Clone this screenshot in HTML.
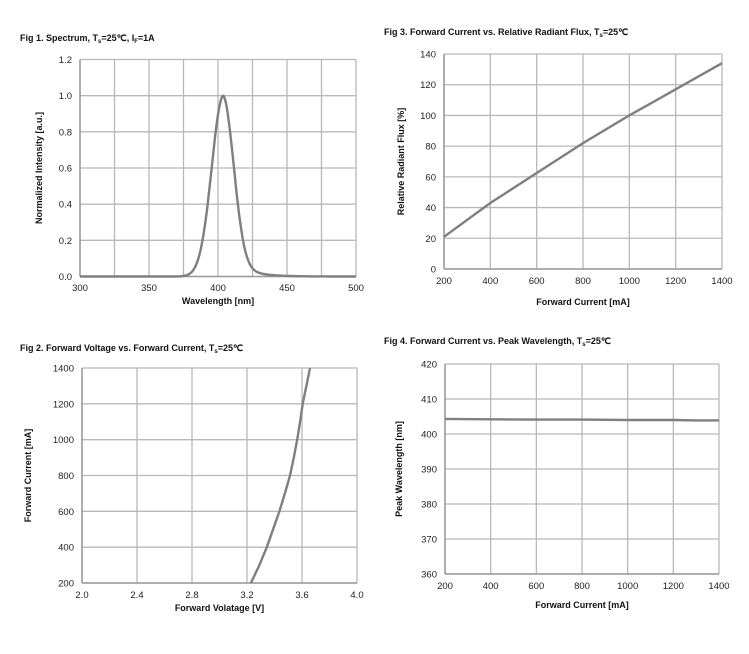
<!DOCTYPE html>
<html><head><meta charset="utf-8"><style>
html,body{margin:0;padding:0;background:#fff;}
svg{display:block;font-family:"Liberation Sans",Arial,sans-serif;}
.t{font-size:9px;font-weight:bold;fill:#111;}
.tk{font-size:9.5px;fill:#222;}
.al{font-size:9px;font-weight:bold;fill:#111;}
</style></head><body>
<svg id="s" width="749" height="654" viewBox="0 0 749 654" xmlns="http://www.w3.org/2000/svg">
<text class="t" x="20" y="41">Fig 1. Spectrum, T<tspan font-size="6" dy="2">s</tspan><tspan dy="-2">=25℃, I</tspan><tspan font-size="6" dy="2">F</tspan><tspan dy="-2">=1A</tspan></text>
<text class="t" x="384" y="35">Fig 3. Forward Current vs. Relative Radiant Flux, T<tspan font-size="6" dy="2">s</tspan><tspan dy="-2">=25℃</tspan></text>
<text class="t" x="20" y="351">Fig 2. Forward Voltage vs. Forward Current, T<tspan font-size="6" dy="2">s</tspan><tspan dy="-2">=25℃</tspan></text>
<text class="t" x="384" y="344">Fig 4. Forward Current vs. Peak Wavelength, T<tspan font-size="6" dy="2">s</tspan><tspan dy="-2">=25℃</tspan></text>
<g id="g"></g>
</svg>
<script>
var g=document.getElementById('g'),NS='http://www.w3.org/2000/svg';
function el(n,a,t){var e=document.createElementNS(NS,n);for(var k in a)e.setAttribute(k,a[k]);if(t!==undefined)e.textContent=t;g.appendChild(e);return e;}
function chart(o){
 var L=o.L,R=o.R,T=o.T,B=o.B;
 function X(v){return L+(v-o.x0)/(o.x1-o.x0)*(R-L);}
 function Y(v){return B-(v-o.y0)/(o.y1-o.y0)*(B-T);}
 for(var i=0;i<=o.nx;i++){var x=L+(R-L)*i/o.nx;el('line',{x1:x,x2:x,y1:T,y2:B,stroke:'#b8b8b8','stroke-width':1.3});}
 for(var j=0;j<=o.ny;j++){var y=T+(B-T)*j/o.ny;el('line',{x1:L,x2:R,y1:y,y2:y,stroke:'#b8b8b8','stroke-width':1.3});}
 el('line',{x1:L,x2:R,y1:B,y2:B,stroke:'#999','stroke-width':1.5});
 el('line',{x1:L,x2:L,y1:T,y2:B,stroke:'#999','stroke-width':1.5});
 o.xl.forEach(function(s,i){var x=L+(R-L)*i/(o.xl.length-1);el('text',{x:x,y:o.xly,'text-anchor':'middle','class':'tk'},s);});
 o.yl.forEach(function(s,i){var y=B-(B-T)*i/(o.yl.length-1);el('text',{x:L-8,y:y+3.5,'text-anchor':'end','class':'tk'},s);});
 el('text',{x:(L+R)/2,y:o.xty,'text-anchor':'middle','class':'al'},o.xt);
 el('text',{x:0,y:0,'text-anchor':'middle','class':'al',transform:'translate('+o.ytx+','+(T+B)/2+') rotate(-90)'},o.yt);
 var d=o.pts.map(function(p,i){return (i?'L':'M')+X(p[0]).toFixed(1)+' '+Y(p[1]).toFixed(1);}).join(' ');
 el('path',{d:d,fill:'none',stroke:'#7f7f7f','stroke-width':2.4,'stroke-linejoin':'round'});
}
var sp=[];for(var w=300;w<=500;w+=0.5){var d=w-404,f;
 if(d<0)f=Math.exp(-0.693*(d/10)*(d/10));else f=0.85*Math.exp(-0.693*(d/9)*(d/9))+0.15*Math.exp(-d/12);sp.push([w,f]);}
chart({L:80,R:356,T:59.5,B:276.5,x0:300,x1:500,y0:0,y1:1.2,nx:8,ny:6,
 xl:['300','350','400','450','500'],yl:['0.0','0.2','0.4','0.6','0.8','1.0','1.2'],xly:291,xt:'Wavelength [nm]',xty:304,yt:'Normalized Intensity [a.u.]',ytx:42,pts:sp});
chart({L:444,R:722,T:54,B:269,x0:200,x1:1400,y0:0,y1:140,nx:6,ny:7,
 xl:['200','400','600','800','1000','1200','1400'],yl:['0','20','40','60','80','100','120','140'],xly:284,xt:'Forward Current [mA]',xty:305,yt:'Relative Radiant Flux [%]',ytx:404,
 pts:[[200,21],[400,43],[600,62.5],[800,82],[1000,100],[1200,117],[1400,134]]});
var iv=[[3.228,200],[3.29,300],[3.344,400],[3.39,500],[3.436,600],[3.476,700],[3.513,800],[3.54,900],[3.565,1000],[3.586,1100],[3.605,1200],[3.632,1300],[3.658,1400]];
chart({L:82,R:357,T:368,B:583,x0:2,x1:4,y0:200,y1:1400,nx:5,ny:6,
 xl:['2.0','2.4','2.8','3.2','3.6','4.0'],yl:['200','400','600','800','1000','1200','1400'],xly:598,xt:'Forward  Volatage [V]',xty:611,yt:'Forward Current [mA]',ytx:31,pts:iv});
chart({L:445,R:719,T:364,B:574,x0:200,x1:1400,y0:360,y1:420,nx:6,ny:6,
 xl:['200','400','600','800','1000','1200','1400'],yl:['360','370','380','390','400','410','420'],xly:589,xt:'Forward Current [mA]',xty:608,yt:'Peak Wavelength [nm]',ytx:402,
 pts:[[200,404.3],[400,404.2],[600,404.1],[800,404.1],[1000,404.0],[1200,404.0],[1300,403.9],[1400,403.9]]});
</script>
</body></html>
